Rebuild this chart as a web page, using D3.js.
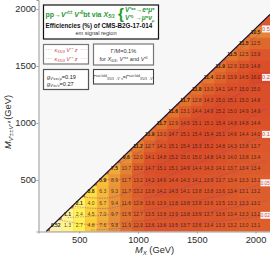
<!DOCTYPE html>
<html>
<head>
<meta charset="utf-8">
<script src="https://cdn.jsdelivr.net/npm/d3@7"></script>
<style>
    html, body {margin: 0; padding: 0; background: white; overflow: hidden;}
    svg {display: block; font-family: "Liberation Sans", sans-serif;}
</style>
</head>
<body>
<div id="chart"></div>
<script>
// mass of V' for each row, first M_X in a row is always massY + 200
const massY = [100, 200, 300, 400, 500, 600, 700, 800, 900, 1000, 1100, 1200, 1300, 1400, 1500, 1600, 1700, 1800];
const efficiencies = [
    [0.52, 1.3, 2.7, 4.8, 7.6, 9.8, 11.9, 12.9, 13.6, 13.6, 13.5, 13.7, 13.6, 13.4, 13.3, 13.2, 13.0, 13.1],
    [1.1, 2.4, 4.5, 7.0, 9.7, 11.6, 12.7, 13.5, 13.8, 13.9, 13.8, 13.9, 13.7, 13.6, 13.4, 13.3, 13.2],
    [2.1, 4.0, 6.7, 9.4, 11.6, 12.8, 13.6, 13.9, 13.8, 13.8, 13.8, 13.6, 13.5, 13.3, 13.3, 13.1],
    [3.8, 6.3, 9.3, 11.7, 13.2, 13.8, 14.2, 14.3, 14.1, 13.8, 13.8, 13.6, 13.4, 13.1, 13.2],
    [5.9, 8.9, 11.7, 13.2, 14.2, 14.6, 14.4, 14.3, 14.1, 13.9, 13.7, 13.4, 13.3, 13.1],
    [7.5, 10.7, 13.2, 14.7, 15.1, 15.1, 14.9, 14.4, 14.3, 14.1, 13.7, 13.4, 13.4],
    [9.6, 12.0, 14.1, 14.8, 15.2, 15.0, 15.0, 14.8, 14.3, 14.0, 13.8, 13.4],
    [11.2, 12.7, 14.1, 15.1, 15.4, 15.3, 15.2, 14.8, 14.3, 13.8, 13.7],
    [11.9, 13.0, 14.7, 15.1, 15.4, 15.4, 15.1, 14.6, 14.4, 14.0],
    [11.7, 12.9, 14.5, 15.1, 15.1, 15.4, 14.8, 14.8, 14.4],
    [11.6, 13.1, 14.4, 14.9, 15.2, 15.0, 14.9, 14.9],
    [11.7, 12.8, 14.3, 15.0, 15.1, 15.0, 14.8],
    [11.8, 13.0, 14.1, 14.7, 15.0, 15.0],
    [11.4, 12.8, 13.9, 14.5, 16.0],
    [11.9, 12.9, 13.9, 14.8],
    [11.5, 12.5, 13.9],
    [11.5, 12.5],
    [10.5]
];
const xTicks = [500, 1000, 1500, 2000];
const yTicks = [500, 1000, 1500, 2000];

// limit contours, [M_X, M_V']
const contourLabels = ["0.5", "0.2", "0.1", "0.05", "0.02"];
const contourLabelMass = [1825, 1400, 900, 475, 190];
const contours = [
    [[2100, 1830], [1850, 1640], [1600, 1430]],
    [[2100, 1400], [1700, 1160], [1300, 920], [775, 605]],
    [[2100, 900], [1600, 690], [1100, 470], [700, 340], [520, 350]],
    [[2100, 475], [1600, 340], [1100, 240], [700, 190], [400, 170]],
    [[2100, 190], [1600, 130], [1000, 85], [600, 60]],
    [[2100, 1130], [1650, 880], [1200, 640], [800, 500], [680, 510]],
    [[2100, 680], [1600, 500], [1100, 350], [700, 250], [440, 270]],
    [[2100, 320], [1600, 220], [1100, 150], [600, 110], [330, 150]]
];

const w = 270;
const h = 258;
const svg = d3.select("#chart").append("svg").attr("width", w).attr("height", h);

const x = d3.scaleLinear().domain([153, 2123]).range([38.5, 270]);
const y = d3.scaleLinear().domain([48, 2079]).range([231.5, 0]);
const color = d3.scaleLinear()
    .domain([0, 1.3, 2.7, 4.8, 7.6, 9.8, 11.7, 13.5, 15.5])
    .range(["#f6f3c4", "#fdf58a", "#fff050", "#fbcb3a", "#eea93a", "#e68e38", "#e1742d", "#dd582c", "#d94a28"]);

// plot background, the part above the diagonal stays light grey
svg.append("rect")
    .attr("x", x.range()[0]).attr("y", 0)
    .attr("width", w - x.range()[0]).attr("height", y.range()[0])
    .attr("fill", "#f7f7f7");

const belowDiag = [[x(153), y(48)], [x(218), y(48)], [x(2123), y(1953)], [x(2123), y(48)]];
svg.append("clipPath").attr("id", "under")
    .append("polygon").attr("points", belowDiag.map(d => d.join(",")).join(" "));

const heat = svg.append("g").attr("clip-path", "url(#under)");
heat.append("rect")
    .attr("x", x(153)).attr("y", 0)
    .attr("width", w).attr("height", y(48))
    .attr("fill", color(13.5));

const cells = [];
massY.forEach((my, i) => {
    efficiencies[i].forEach((v, j) => {
        cells.push({mx: my + 200 + j * 100, my: my, v: v, first: j == 0});
    });
});
heat.selectAll("rect.cell")
    .data(cells)
    .enter()
    .append("rect")
    .attr("class", "cell")
    .attr("x", d => x(d.mx - 50))
    .attr("y", d => y(d.my + 50))
    .attr("width", d => (d.mx == 2000 ? w - x(d.mx - 50) : x(d.mx + 50) - x(d.mx - 50)) + 0.3)
    .attr("height", d => (d.my == 100 ? y(48) - y(d.my + 50) : y(d.my - 50) - y(d.my + 50)) + 0.3)
    .attr("fill", d => color(d.v));

// dashed contours
const line = d3.line().x(d => x(d[0])).y(d => y(d[1])).curve(d3.curveMonotoneX);
heat.selectAll("path.contour")
    .data(contours)
    .enter()
    .append("path")
    .attr("class", "contour")
    .attr("d", d => line(d.slice().reverse()))
    .attr("fill", "none")
    .attr("stroke", "#8a3f9a")
    .attr("stroke-width", 0.6)
    .attr("stroke-dasharray", "1.5,1")
    .attr("opacity", 0.75);

// diagonal kinematic limit
svg.append("line")
    .attr("x1", x(218)).attr("y1", y(48))
    .attr("x2", x(2123)).attr("y2", y(1953))
    .attr("stroke", "#14143c")
    .attr("stroke-width", 1.1);

// cell labels
svg.selectAll("text.val")
    .data(cells)
    .enter()
    .append("text")
    .attr("class", "val")
    .attr("x", d => x(d.mx))
    .attr("y", d => y(d.my) + 1.8)
    .attr("text-anchor", "middle")
    .attr("font-size", 5)
    .attr("font-weight", d => d.first ? "bold" : "normal")
    .attr("fill", "#2a1408")
    .attr("fill-opacity", d => d.first ? 0.95 : 0.8)
    .text(d => d.v.toFixed(d.v < 1 ? 2 : 1));

// white contour labels on the right edge
contourLabels.forEach((t, i) => {
    const yy = y(contourLabelMass[i]);
    const bw = t.length > 3 ? 9.5 : 8;
    svg.append("rect")
        .attr("x", 270 - bw).attr("y", yy - 3.5)
        .attr("width", bw).attr("height", 7)
        .attr("fill", "white").attr("opacity", 0.92);
    svg.append("text")
        .attr("x", 270 - bw / 2).attr("y", yy + 1.8)
        .attr("text-anchor", "middle")
        .attr("font-size", t.length > 3 ? 4.6 : 5.6)
        .attr("fill", "#c8504a")
        .text(t);
});

// axes
const xAxis = d3.axisBottom(x).tickValues(xTicks).tickSize(2).tickFormat(d3.format("d"));
const yAxis = d3.axisLeft(y).tickValues(yTicks).tickSize(2).tickFormat(d3.format("d"));
const gx = svg.append("g").attr("transform", `translate(0,${y.range()[0]})`).call(xAxis);
const gy = svg.append("g").attr("transform", `translate(${x.range()[0]},0)`).call(yAxis);
[gx, gy].forEach(g => {
    g.selectAll("path").attr("stroke", "#9a9a9a").attr("stroke-width", 1);
    g.selectAll("line").attr("stroke", "#9a9a9a");
    g.selectAll("text").attr("font-size", 9.3).attr("font-family", "Liberation Sans").attr("fill", "#2b2b2b");
});
gx.selectAll("text").attr("y", 5);
gy.selectAll("text").attr("x", -2.5);

// text with sub and superscripts: parts are [string, "sub"|"sup"|null, italic]
function rich(sel, parts, size) {
    let shift = 0;
    parts.forEach(p => {
        const t = sel.append("tspan").text(p[0]);
        const target = p[1] == "sub" ? size * 0.25 : p[1] == "sup" ? -size * 0.35 : 0;
        if (target != shift) t.attr("dy", target - shift);
        shift = target;
        if (p[1]) t.attr("font-size", size * 0.65);
        if (p[2]) t.attr("font-style", "italic");
    });
}

function box(x0, y0, bw, bh, stroke, sw) {
    svg.append("rect")
        .attr("x", x0).attr("y", y0)
        .attr("width", bw).attr("height", bh)
        .attr("fill", "white")
        .attr("stroke", stroke)
        .attr("stroke-width", sw);
}

function label(px, py, size, fill, parts, opts) {
    opts = opts || {};
    const t = svg.append("text")
        .attr("x", px).attr("y", py)
        .attr("font-size", size)
        .attr("fill", fill)
        .attr("text-anchor", opts.anchor || "start")
        .attr("font-weight", opts.bold ? "bold" : "normal");
    rich(t, parts, size);
    return t;
}

// main legend box
box(43.5, 5, 115, 34, "#111", 1.2);
const green = "#1f9a2e";
label(45.5, 16.5, 7, green, [["pp\u2192"], ["V'", null, true], ["\u00b1\u00b1", "sup"], [" "], ["V'", null, true], ["0", "sup"], ["bt via "], ["X", null, true], ["5/3", "sub", true]], {bold: true});
svg.append("text").attr("x", 118).attr("y", 18.5).attr("font-size", 15).attr("fill", green).attr("font-weight", "bold").text("{");
label(125, 12, 6.6, green, [["V'", null, true], ["\u00b1\u00b1", "sup"], ["\u2192"], ["e", null, true], ["\u00b1", "sup"], ["\u03bc", null, true], ["\u00b1", "sup"]], {bold: true});
label(125, 20, 6.6, green, [["V'", null, true], ["0", "sup"], ["  \u2192\u03bc", null, true], ["\u00b1", "sup"], ["\u03bd", null, true], ["\u03bc", "sub", true]], {bold: true});
label(45.5, 27.5, 6.3, "#111", [["Efficiencies (%) of CMS-B2G-17-014"]], {bold: true});
label(96, 35, 5.6, "#333", [["em signal region"]], {anchor: "middle"});

// coupling legend
box(43.5, 44.5, 45, 19.5, "#777", 1.2);
const red = "#c4444a";
[49.5, 58.5].forEach(yy => {
    svg.append("line").attr("x1", 46).attr("x2", 87).attr("y1", yy).attr("y2", yy)
        .attr("stroke", red).attr("stroke-width", 0.6).attr("stroke-dasharray", "1,1.2").attr("opacity", 0.55);
});
function redKappa(py, tail) {
    const w2 = 28;
    svg.append("rect").attr("x", 66 - w2 / 2).attr("y", py - 5).attr("width", w2).attr("height", 7).attr("fill", "white");
    label(66, py, 5.6, red, [["\u03ba", null, true], ["X5/3", "sub", true], [" "], [tail, null, true]], {anchor: "middle"});
}
redKappa(51.5, "V'\u207a z");
redKappa(60.5, "V'\u207a z");

box(43.5, 69.5, 45, 20, "#555", 1.2);
label(47, 78.5, 5.6, "#222", [["g", null, true], ["V'\u00b1\u00b1\u03bd'\u03bc", "sub", true], ["=0.19"]]);
label(47, 85.5, 5.6, "#222", [["g", null, true], ["V'\u00b1\u03bd'\u03bd", "sub", true], ["=0.27"]]);

// width legend
box(93.5, 44, 60, 21, "#777", 1.2);
label(123.5, 53, 5.6, "#333", [["\u0393/M=0.1%"]], {anchor: "middle"});
label(123.5, 60.5, 5.6, "#333", [["for "], ["X", null, true], ["5/3", "sub", true], [", "], ["V'", null, true], ["\u00b1\u00b1", "sup"], [" and "], ["V'", null, true], ["0", "sup"]], {anchor: "middle"});

box(93.5, 69.5, 60, 14.5, "#444", 1.1);
label(123.5, 79, 5.2, "#333", [["\u0393", null, true], ["sat-fold", "sup"], ["X5/3\u2192V'\u207a\u03bd", "sub"], ["="], ["\u0393", null, true], ["sat-fold", "sup"], ["X5/3\u2192V'\u207a", "sub"]], {anchor: "middle"});

// axis titles
label(135, 252.5, 9.3, "#2b2b2b", [["M", null, true], ["X", "sub", true], [" (GeV)"]]);
const yTitle = svg.append("text")
    .attr("transform", "translate(11,122) rotate(-90)")
    .attr("text-anchor", "middle")
    .attr("font-size", 9.3)
    .attr("fill", "#2b2b2b");
rich(yTitle, [["M", null, true], ["V'\u00b1\u00b1V'\u2070", "sub", true], [" (GeV)"]], 9.3);
</script>
</body>
</html>
